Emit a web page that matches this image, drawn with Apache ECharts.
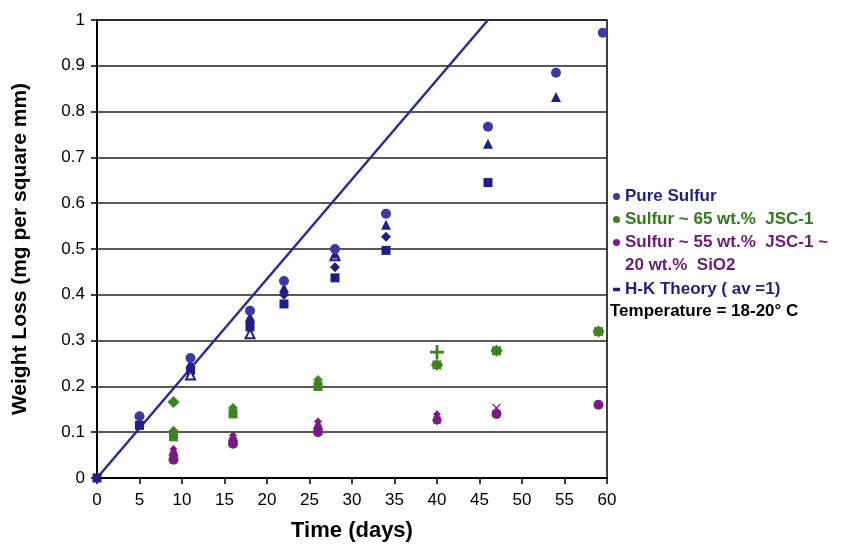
<!DOCTYPE html>
<html>
<head>
<meta charset="utf-8">
<script src="https://cdn.jsdelivr.net/npm/echarts@6/dist/echarts.min.js"></script>
<style>
  html, body { margin: 0; padding: 0; background: #fff; }
  #chart { width: 857px; height: 552px; }
</style>
</head>
<body>
<div id="chart"></div>
<script>
// ─── Data ────────────────────────────────────────
const xTicks = [0, 5, 10, 15, 20, 25, 30, 35, 40, 45, 50, 55, 60];

// Pure Sulfur samples (day, weight loss)
const pureCircle   = [[5,0.135],[11,0.262],[18,0.365],[22,0.43],[28,0.50],[34,0.577],[46,0.767],[54,0.885],[59.5,0.972]];
const pureTriangle = [[5,0.125],[11,0.25],[18,0.352],[22,0.415],[28,0.49],[34,0.553],[46,0.73],[54,0.832]];
const pureDiamond  = [[11,0.242],[18,0.34],[22,0.40],[28,0.46],[34,0.527]];
const pureSquare   = [[0,0],[5,0.115],[11,0.235],[18,0.33],[22,0.38],[28,0.437],[34,0.497],[46,0.645]];
const pureOpen     = [[11,0.225],[18,0.315],[28,0.485]];

// Sulfur ~ 65 wt.% JSC-1
const jscDiamond = [[9,0.166]];
const jscArrow   = [[9,0.102],[16,0.152],[26,0.213]];
const jscSquare  = [[9,0.09],[16,0.14],[26,0.20]];
const jscPlus    = [[40,0.275]];
const jscStar    = [[40,0.247],[47,0.278],[59,0.32]];

// Sulfur ~ 55 wt.% JSC-1 ~ 20 wt.% SiO2
const sioArrow  = [[9,0.062],[16,0.092],[26,0.122],[40,0.138]];
const sioStar   = [[9,0.05],[16,0.082],[26,0.108],[40,0.126]];
const sioCircle = [[9,0.04],[16,0.075],[26,0.10],[47,0.14],[59,0.16]];
const sioCross  = [[47,0.153]];

// H-K theory (av = 1)
const hkLine = [[0,0],[46,1]];

// ─── Chart ────────────────────────────────────────
const BLUE = '#1f1f86';
const BLUE_LIGHT = '#3a3aa2';
const LINE_BLUE = '#2a2a9c';
const GREEN = '#3b8420';
const PURPLE = '#7b1a86';

const PLUS = 'path://M4,0 L6,0 L6,4 L10,4 L10,6 L6,6 L6,10 L4,10 L4,6 L0,6 L0,4 L4,4 Z';
const CROSS = 'path://M1,0 L5,4 L9,0 L10,1 L6,5 L10,9 L9,10 L5,6 L1,10 L0,9 L4,5 L0,1 Z';
const BLOB = 'path://M5,0 L6.5,1.5 L8.5,1 L8.8,3.2 L10,5 L8.8,6.8 L8.5,9 L6.5,8.5 L5,10 L3.5,8.5 L1.5,9 L1.2,6.8 L0,5 L1.2,3.2 L1.5,1 L3.5,1.5 Z';
const HOUSE = 'path://M5,0 L10,5 L8,5 L8,10 L2,10 L2,5 L0,5 Z';
const DASH = 'path://M0,0 L10,0 L10,5 L0,5 Z';

const LEG_PURE = 'Pure Sulfur';
const LEG_JSC = 'Sulfur ~ 65 wt.%  JSC-1';
const LEG_SIO = 'Sulfur ~ 55 wt.%  JSC-1 ~';
const LEG_SIO_2 = '20 wt.%  SiO2';
const LEG_HK = 'H-K Theory ( av =1)';

const legendText = { fontFamily: 'Liberation Sans', fontWeight: 'bold', fontSize: 17, lineHeight: 23 };

function scatter(name, data, symbol, size, color) {
  return {
    name: name,
    type: 'scatter',
    data: data,
    symbol: symbol,
    symbolSize: size,
    itemStyle: { color: color, opacity: 1 },
    z: 3
  };
}

const chart = echarts.init(document.getElementById('chart'));

chart.setOption({
  animation: false,
  grid: { left: 97, right: 250, top: 20, bottom: 74, show: true, borderColor: '#000', borderWidth: 1.5 },
  xAxis: {
    type: 'value', min: 0, max: 60, interval: 5,
    name: 'Time (days)', nameLocation: 'middle', nameGap: 42,
    nameTextStyle: { fontFamily: 'Liberation Sans', fontWeight: 'bold', fontSize: 22, color: '#000' },
    axisLine: { show: true, onZero: false, lineStyle: { color: '#000', width: 2 } },
    axisTick: { show: true, length: 6, lineStyle: { color: '#000', width: 1.5 } },
    axisLabel: { fontFamily: 'Liberation Sans', fontSize: 17, color: '#000', margin: 14 },
    splitLine: { show: false }
  },
  yAxis: {
    type: 'value', min: 0, max: 1, interval: 0.1,
    name: 'Weight Loss (mg per square mm)', nameLocation: 'middle', nameGap: 66,
    nameTextStyle: { fontFamily: 'Liberation Sans', fontWeight: 'bold', fontSize: 21, color: '#000' },
    axisLine: { show: true, lineStyle: { color: '#000', width: 2 } },
    axisTick: { show: true, length: 6, lineStyle: { color: '#000', width: 1.5 } },
    axisLabel: { fontFamily: 'Liberation Sans', fontSize: 17, color: '#000', margin: 12 },
    splitLine: { show: true, lineStyle: { color: '#222', width: 1.5 } }
  },
  legend: [
    {
      orient: 'vertical',
      left: 608, top: 180,
      itemWidth: 7, itemHeight: 7, itemGap: 0,
      icon: 'circle',
      textStyle: legendText,
      data: [
        { name: LEG_PURE, itemStyle: { color: BLUE_LIGHT }, textStyle: { color: BLUE } },
        { name: LEG_JSC, itemStyle: { color: GREEN }, textStyle: { color: '#2f7a1a' } },
        { name: LEG_SIO, itemStyle: { color: PURPLE }, textStyle: { color: '#6e1a7c' } }
      ]
    },
    {
      orient: 'vertical',
      left: 608, top: 273,
      itemWidth: 7, itemHeight: 4,
      textStyle: legendText,
      data: [
        { name: LEG_HK, icon: DASH, itemStyle: { color: BLUE }, textStyle: { color: BLUE } }
      ]
    }
  ],
  graphic: [
    {
      type: 'text', left: 625, top: 257,
      style: { text: LEG_SIO_2, font: 'bold 17px "Liberation Sans"', fill: '#6e1a7c' }
    },
    {
      type: 'text', left: 610, top: 303,
      style: { text: 'Temperature = 18-20° C', font: 'bold 17px "Liberation Sans"', fill: '#000' }
    }
  ],
  series: [
    {
      name: LEG_HK, type: 'line', data: hkLine,
      symbol: 'none', lineStyle: { color: LINE_BLUE, width: 2.5 }, z: 2
    },
    scatter(LEG_PURE, pureSquare, 'rect', 9, BLUE),
    scatter(LEG_PURE, pureOpen, 'emptyTriangle', 9, BLUE),
    scatter(LEG_PURE, pureDiamond, 'diamond', 10, BLUE),
    scatter(LEG_PURE, pureTriangle, 'triangle', 10, BLUE),
    scatter(LEG_PURE, pureCircle, 'circle', 10, BLUE_LIGHT),
    scatter(LEG_JSC, jscSquare, 'rect', 9, GREEN),
    scatter(LEG_JSC, jscArrow, HOUSE, 11, GREEN),
    scatter(LEG_JSC, jscDiamond, 'diamond', 12, GREEN),
    scatter(LEG_JSC, jscPlus, PLUS, 14, GREEN),
    scatter(LEG_JSC, jscStar, BLOB, 12, GREEN),
    scatter(LEG_SIO, sioCircle, 'circle', 10, PURPLE),
    scatter(LEG_SIO, sioStar, BLOB, 10, PURPLE),
    scatter(LEG_SIO, sioArrow, HOUSE, 9, PURPLE),
    scatter(LEG_SIO, sioCross, CROSS, 9, PURPLE)
  ]
});

window.addEventListener('resize', () => chart.resize());
</script>
</body>
</html>
